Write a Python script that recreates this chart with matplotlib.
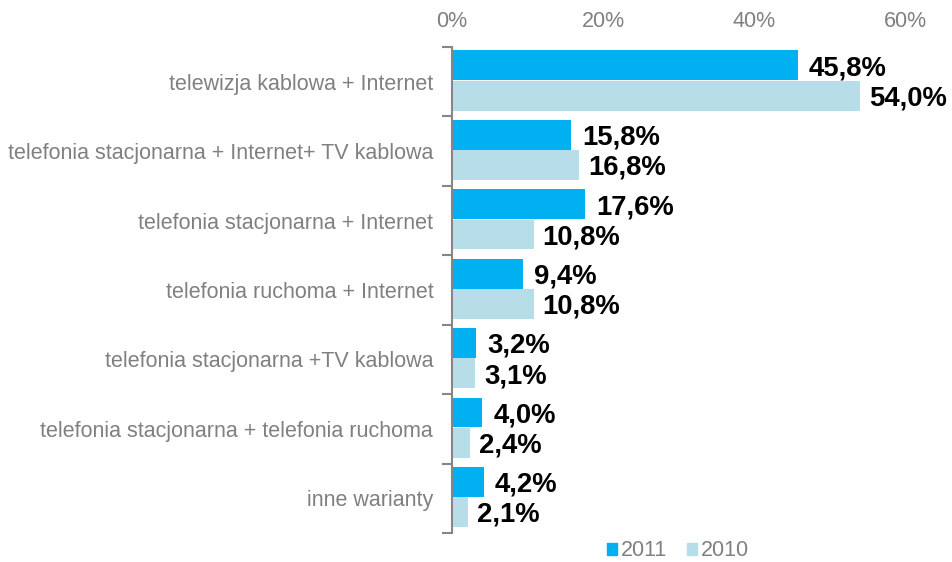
import matplotlib
matplotlib.use("Agg")
import matplotlib.pyplot as plt
from matplotlib.patches import Patch

plt.rcParams['font.family'] = ['Liberation Sans', 'DejaVu Sans']

categories = [
    "telewizja kablowa + Internet",
    "telefonia stacjonarna + Internet+ TV kablowa",
    "telefonia stacjonarna + Internet",
    "telefonia ruchoma + Internet",
    "telefonia stacjonarna +TV kablowa",
    "telefonia stacjonarna + telefonia ruchoma",
    "inne warianty",
]
values_2011 = [45.8, 15.8, 17.6, 9.4, 3.2, 4.0, 4.2]
values_2010 = [54.0, 16.8, 10.8, 10.8, 3.1, 2.4, 2.1]
series_labels = ["2011", "2010"]
xticks = [0, 20, 40, 60]

c2011 = "#00B0F0"
c2010 = "#B7DEE8"
gray = "#808080"

fig = plt.figure(figsize=(9.52, 5.62), dpi=100)
ax = fig.add_axes([452/952, 1-533/562, (905-452)/952, (533-47)/562])

ys = list(range(len(categories)))
h = 0.43
y11 = [y - 0.235 for y in ys]
y10 = [y + 0.2 for y in ys]
ax.barh(y11, values_2011, height=h, color=c2011)
ax.barh(y10, values_2010, height=h, color=c2010)

def fmt(v):
    return f"{v:.1f}%".replace(".", ",")

for y, v in zip(y11, values_2011):
    ax.text(v + 1.5, y + 0.04, fmt(v), va='center', ha='left', fontsize=19.8,
            fontweight='bold', color='black', clip_on=False)
for y, v in zip(y10, values_2010):
    ax.text(v + 1.2, y + 0.04, fmt(v), va='center', ha='left', fontsize=19.8,
            fontweight='bold', color='black', clip_on=False)

ax.set_xlim(0, 60)
ax.set_ylim(len(categories) - 0.5, -0.5)
ax.xaxis.tick_top()
ax.set_xticks(xticks)
ax.set_xticklabels([f"{t}%" for t in xticks])
ax.tick_params(axis='x', length=0, labelsize=15.5, labelcolor=gray, pad=10.5)

ax.set_yticks(ys)
ax.set_yticklabels(categories)
ax.tick_params(axis='y', which='major', length=0, labelsize=15.5, labelcolor=gray, pad=13.5)
ax.set_yticks([y - 0.5 for y in ys] + [len(ys) - 0.5], minor=True)
ax.tick_params(axis='y', which='minor', length=7, color='#868686', width=1.5)

for s in ['top', 'right', 'bottom']:
    ax.spines[s].set_visible(False)
ax.spines['left'].set_color('#868686')
ax.spines['left'].set_linewidth(1.5)

handles = [Patch(color=c2011, label=series_labels[0]), Patch(color=c2010, label=series_labels[1])]
fig.legend(handles=handles, loc='center', bbox_to_anchor=(678/952, 1-551/562), ncol=2,
           frameon=False, fontsize=15.5, labelcolor=gray, handlelength=0.47, handleheight=0.47,
           handletextpad=0.17, columnspacing=0.9)

fig.savefig("out.png", dpi=100)
